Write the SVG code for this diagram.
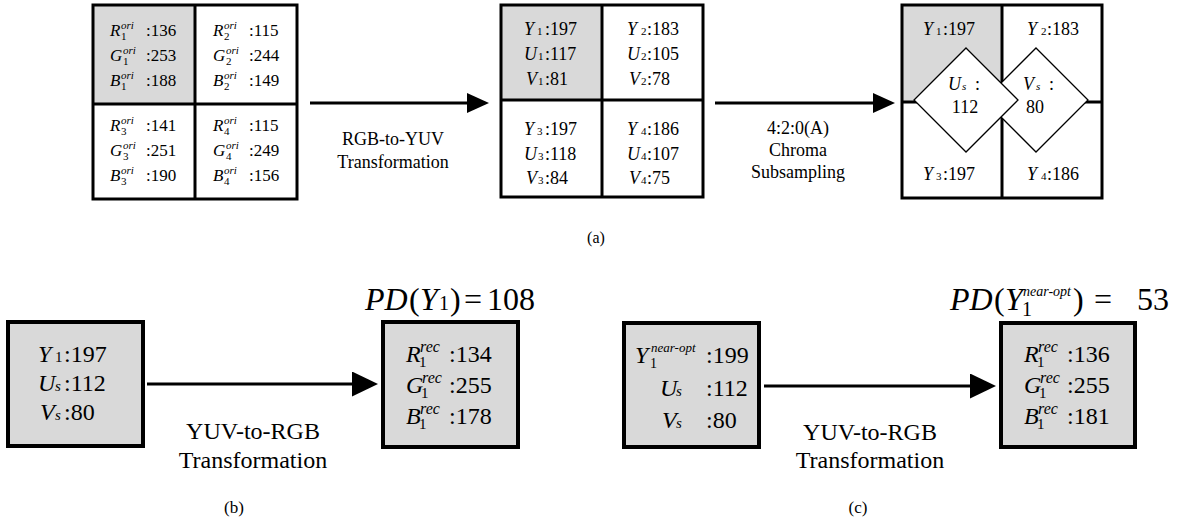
<svg xmlns="http://www.w3.org/2000/svg" width="1193" height="529" viewBox="0 0 1193 529" font-family="'Liberation Serif', 'DejaVu Serif', serif">
<style>
.t{font-family:"Liberation Serif","DejaVu Serif",serif;fill:#000}
.i{font-style:italic}
.g{fill:#d9d9d9}
.frame{fill:none;stroke:#000;stroke-width:3}
.box{fill:#d9d9d9;stroke:#000;stroke-width:4}
.dia{fill:#fff;stroke:#000;stroke-width:1.3}
.conn{stroke:#000;stroke-width:3;fill:none}
.f17{font-size:17px}
.f18{font-size:18px}
.f24{font-size:24px}
.s10{font-size:11px}
</style>
<defs>
<marker id="ahS" markerUnits="userSpaceOnUse" markerWidth="22" markerHeight="20" refX="12" refY="10" orient="auto"><path d="M0,0 L22,10 L0,20 z" fill="#000"/></marker>
<marker id="ahL" markerUnits="userSpaceOnUse" markerWidth="26" markerHeight="25" refX="14" refY="12.5" orient="auto"><path d="M0,0 L26,12.5 L0,25 z" fill="#000"/></marker>
</defs>

<g id="grid-rgb">
<rect class="g" x="93" y="5" width="102" height="99"/>
<rect class="frame" x="93" y="5" width="204" height="194"/>
<line class="frame" x1="195" y1="5" x2="195" y2="199"/>
<line class="frame" x1="93" y1="104" x2="297" y2="104"/>
<g class="t f17">
<text y="36"><tspan x="110" class="i">R</tspan><tspan x="121" dy="-7" class="i s10">ori</tspan><tspan x="121" dy="11" class="s10">1</tspan><tspan x="146" dy="-4">:136</tspan></text>
<text y="61"><tspan x="110" class="i">G</tspan><tspan x="123" dy="-7" class="i s10">ori</tspan><tspan x="123" dy="11" class="s10">1</tspan><tspan x="146" dy="-4">:253</tspan></text>
<text y="86"><tspan x="110" class="i">B</tspan><tspan x="121" dy="-7" class="i s10">ori</tspan><tspan x="121" dy="11" class="s10">1</tspan><tspan x="146" dy="-4">:188</tspan></text>
<text y="36"><tspan x="213" class="i">R</tspan><tspan x="224" dy="-7" class="i s10">ori</tspan><tspan x="224" dy="11" class="s10">2</tspan><tspan x="249" dy="-4">:115</tspan></text>
<text y="61"><tspan x="213" class="i">G</tspan><tspan x="226" dy="-7" class="i s10">ori</tspan><tspan x="226" dy="11" class="s10">2</tspan><tspan x="249" dy="-4">:244</tspan></text>
<text y="86"><tspan x="213" class="i">B</tspan><tspan x="224" dy="-7" class="i s10">ori</tspan><tspan x="224" dy="11" class="s10">2</tspan><tspan x="249" dy="-4">:149</tspan></text>
<text y="131"><tspan x="110" class="i">R</tspan><tspan x="121" dy="-7" class="i s10">ori</tspan><tspan x="121" dy="11" class="s10">3</tspan><tspan x="146" dy="-4">:141</tspan></text>
<text y="156"><tspan x="110" class="i">G</tspan><tspan x="123" dy="-7" class="i s10">ori</tspan><tspan x="123" dy="11" class="s10">3</tspan><tspan x="146" dy="-4">:251</tspan></text>
<text y="181"><tspan x="110" class="i">B</tspan><tspan x="121" dy="-7" class="i s10">ori</tspan><tspan x="121" dy="11" class="s10">3</tspan><tspan x="146" dy="-4">:190</tspan></text>
<text y="131"><tspan x="213" class="i">R</tspan><tspan x="224" dy="-7" class="i s10">ori</tspan><tspan x="224" dy="11" class="s10">4</tspan><tspan x="249" dy="-4">:115</tspan></text>
<text y="156"><tspan x="213" class="i">G</tspan><tspan x="226" dy="-7" class="i s10">ori</tspan><tspan x="226" dy="11" class="s10">4</tspan><tspan x="249" dy="-4">:249</tspan></text>
<text y="181"><tspan x="213" class="i">B</tspan><tspan x="224" dy="-7" class="i s10">ori</tspan><tspan x="224" dy="11" class="s10">4</tspan><tspan x="249" dy="-4">:156</tspan></text>
</g>
</g>

<g id="grid-yuv">
<rect class="g" x="501" y="5" width="101" height="95"/>
<rect class="frame" x="501" y="5" width="202" height="192"/>
<line class="frame" x1="602" y1="5" x2="602" y2="197"/>
<line class="frame" x1="501" y1="100" x2="703" y2="100"/>
<g class="t f18">
<text y="35"><tspan x="524" class="i">Y</tspan><tspan x="537" class="s10">1</tspan><tspan x="545">:197</tspan></text>
<text y="60"><tspan x="524" class="i">U</tspan><tspan x="538" class="s10">1</tspan><tspan x="545">:117</tspan></text>
<text y="85"><tspan x="526" class="i">V</tspan><tspan x="538" class="s10">1</tspan><tspan x="545">:81</tspan></text>
<text y="35"><tspan x="627" class="i">Y</tspan><tspan x="641" class="s10">2</tspan><tspan x="647">:183</tspan></text>
<text y="60"><tspan x="627" class="i">U</tspan><tspan x="641" class="s10">2</tspan><tspan x="647">:105</tspan></text>
<text y="85"><tspan x="629" class="i">V</tspan><tspan x="641" class="s10">2</tspan><tspan x="647">:78</tspan></text>
<text y="135"><tspan x="524" class="i">Y</tspan><tspan x="537" class="s10">3</tspan><tspan x="545">:197</tspan></text>
<text y="160"><tspan x="524" class="i">U</tspan><tspan x="538" class="s10">3</tspan><tspan x="545">:118</tspan></text>
<text y="184"><tspan x="526" class="i">V</tspan><tspan x="538" class="s10">3</tspan><tspan x="545">:84</tspan></text>
<text y="135"><tspan x="627" class="i">Y</tspan><tspan x="641" class="s10">4</tspan><tspan x="647">:186</tspan></text>
<text y="160"><tspan x="627" class="i">U</tspan><tspan x="641" class="s10">4</tspan><tspan x="647">:107</tspan></text>
<text y="184"><tspan x="629" class="i">V</tspan><tspan x="641" class="s10">4</tspan><tspan x="647">:75</tspan></text>
</g>
</g>

<g id="grid-sub">
<rect class="g" x="902" y="5" width="100" height="97"/>
<rect class="frame" x="902" y="5" width="200" height="193"/>
<line class="frame" x1="1002" y1="5" x2="1002" y2="198"/>
<line class="frame" x1="902" y1="102" x2="1102" y2="102"/>
<polygon class="dia" points="1036,48 1088,100 1036,152 984,100"/>
<polygon class="dia" points="966,48 1018,100 966,152 914,100"/>
<g class="t f18">
<text y="35"><tspan x="923" class="i">Y</tspan><tspan x="936" class="s10">1</tspan><tspan x="943">:197</tspan></text>
<text y="35"><tspan x="1027" class="i">Y</tspan><tspan x="1041" class="s10">2</tspan><tspan x="1047">:183</tspan></text>
<text y="180"><tspan x="923" class="i">Y</tspan><tspan x="936" class="s10">3</tspan><tspan x="943">:197</tspan></text>
<text y="180"><tspan x="1027" class="i">Y</tspan><tspan x="1041" class="s10">4</tspan><tspan x="1047">:186</tspan></text>
<text y="90"><tspan x="948" class="i">U</tspan><tspan x="962" class="s10 i">s</tspan><tspan x="975">:</tspan></text>
<text x="965" y="113" text-anchor="middle">112</text>
<text y="90"><tspan x="1023" class="i">V</tspan><tspan x="1036" class="s10 i">s</tspan><tspan x="1049">:</tspan></text>
<text x="1035" y="113" text-anchor="middle">80</text>
</g>
</g>

<g id="labels-a" class="t f18" text-anchor="middle">
<text x="393" y="145">RGB-to-YUV</text>
<text x="393" y="168">Transformation</text>
<text x="798" y="134">4:2:0(A)</text>
<text x="798" y="156">Chroma</text>
<text x="798" y="178">Subsampling</text>
<text x="596" y="243" style="font-size:16px">(a)</text>
</g>

<g id="box-b-yuv">
<rect class="box" x="8" y="322" width="135" height="124"/>
<g class="t f24">
<text y="362"><tspan x="38" class="i">Y</tspan><tspan x="55" style="font-size:15px">1</tspan><tspan x="64">:197</tspan></text>
<text y="391"><tspan x="38" class="i">U</tspan><tspan x="55" style="font-size:15px" class="i">s</tspan><tspan x="64">:112</tspan></text>
<text y="420"><tspan x="40" class="i">V</tspan><tspan x="55" style="font-size:15px" class="i">s</tspan><tspan x="64">:80</tspan></text>
</g>
</g>

<g id="box-b-rgb">
<rect class="box" x="383" y="322" width="135" height="125"/>
<g class="t f24">
<text y="362"><tspan x="406" class="i">R</tspan><tspan x="420" dy="-10" class="i" style="font-size:16px">rec</tspan><tspan x="419" dy="15" style="font-size:15px">1</tspan><tspan x="449" dy="-5">:134</tspan></text>
<text y="393"><tspan x="406" class="i">G</tspan><tspan x="422" dy="-10" class="i" style="font-size:16px">rec</tspan><tspan x="421" dy="15" style="font-size:15px">1</tspan><tspan x="449" dy="-5">:255</tspan></text>
<text y="424"><tspan x="406" class="i">B</tspan><tspan x="420" dy="-10" class="i" style="font-size:16px">rec</tspan><tspan x="419" dy="15" style="font-size:15px">1</tspan><tspan x="449" dy="-5">:178</tspan></text>
</g>
</g>

<g id="pd-b" class="t" style="font-size:32px">
<text y="310"><tspan x="365" class="i">PD</tspan><tspan x="409">(</tspan><tspan x="420" class="i">Y</tspan><tspan x="439" style="font-size:20px">1</tspan><tspan x="450">)</tspan><tspan x="464">=</tspan><tspan x="487">108</tspan></text>
</g>

<g id="labels-b" class="t" text-anchor="middle">
<text x="253" y="439" style="font-size:24px">YUV-to-RGB</text>
<text x="253" y="468" style="font-size:24px">Transformation</text>
<text x="234" y="513" style="font-size:17px">(b)</text>
</g>

<g id="box-c-yuv">
<rect class="box" x="624" y="323" width="135" height="124"/>
<g class="t f24">
<text y="363"><tspan x="635" class="i">Y</tspan><tspan x="651" dy="-11" class="i" style="font-size:13px">near-opt</tspan><tspan x="650" dy="16" style="font-size:14px">1</tspan><tspan x="706" dy="-5">:199</tspan></text>
<text y="396"><tspan x="660" class="i">U</tspan><tspan x="676" style="font-size:15px" class="i">s</tspan><tspan x="706">:112</tspan></text>
<text y="428"><tspan x="662" class="i">V</tspan><tspan x="676" style="font-size:15px" class="i">s</tspan><tspan x="706">:80</tspan></text>
</g>
</g>

<g id="box-c-rgb">
<rect class="box" x="1001" y="323" width="134" height="124"/>
<g class="t f24">
<text y="362"><tspan x="1024" class="i">R</tspan><tspan x="1038" dy="-10" class="i" style="font-size:16px">rec</tspan><tspan x="1037" dy="15" style="font-size:15px">1</tspan><tspan x="1067" dy="-5">:136</tspan></text>
<text y="393"><tspan x="1024" class="i">G</tspan><tspan x="1040" dy="-10" class="i" style="font-size:16px">rec</tspan><tspan x="1039" dy="15" style="font-size:15px">1</tspan><tspan x="1067" dy="-5">:255</tspan></text>
<text y="424"><tspan x="1024" class="i">B</tspan><tspan x="1038" dy="-10" class="i" style="font-size:16px">rec</tspan><tspan x="1037" dy="15" style="font-size:15px">1</tspan><tspan x="1067" dy="-5">:181</tspan></text>
</g>
</g>

<g id="pd-c" class="t" style="font-size:32px">
<text y="310"><tspan x="950" class="i">PD</tspan><tspan x="994">(</tspan><tspan x="1005" class="i">Y</tspan><tspan x="1023" dy="-14" class="i" style="font-size:14px">near-opt</tspan><tspan x="1022" dy="20" style="font-size:20px">1</tspan><tspan x="1073" dy="-6">)</tspan><tspan x="1094">=</tspan><tspan x="1137">53</tspan></text>
</g>

<g id="labels-c" class="t" text-anchor="middle">
<text x="870" y="440" style="font-size:24px">YUV-to-RGB</text>
<text x="870" y="468" style="font-size:24px">Transformation</text>
<text x="858" y="513" style="font-size:17px">(c)</text>
</g>

<g id="connectors">
<line class="conn" x1="310" y1="103" x2="479" y2="103" marker-end="url(#ahS)"/>
<line class="conn" x1="715" y1="103" x2="885" y2="103" marker-end="url(#ahS)"/>
<line class="conn" x1="147" y1="384" x2="366" y2="384" marker-end="url(#ahL)"/>
<line class="conn" x1="764" y1="386" x2="984" y2="386" marker-end="url(#ahL)"/>
</g>
</svg>
